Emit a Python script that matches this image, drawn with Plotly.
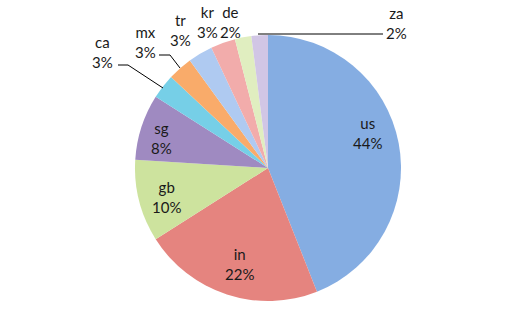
import plotly.graph_objects as go

labels = ["us", "in", "gb", "sg", "ca", "mx", "tr", "kr", "de", "za"]
values = [44, 22, 10, 8, 3, 3, 3, 3, 2, 2]
pct_text = ["44%", "22%", "10%", "8%", "3%", "3%", "3%", "3%", "2%", "2%"]

colors = ["#85ADE2", "#E5847F", "#CDE39E", "#9F8AC1", "#76CFE7",
          "#F9AB6A", "#AFCAF1", "#F2ACAB", "#E0EEC0", "#D1C6E5"]

W, H = 530, 315
# label centres (pixel coords in the figure)
label_pos = {
    "us": (367, 133), "in": (239, 264), "gb": (166, 197), "sg": (161, 138),
    "ca": (102, 52), "mx": (145, 42), "tr": (180, 30), "kr": (207, 22),
    "de": (230, 22), "za": (397, 23),
}
# leader lines (pixel polylines)
leaders = [
    [(118, 65), (128, 65), (163, 88)],
    [(159, 55), (170, 55), (180, 68)],
    [(258, 34), (383, 34)],
]

fig = go.Figure(go.Pie(
    labels=labels, values=values, sort=False, direction="clockwise",
    rotation=0, textinfo="none", hoverinfo="label+percent",
    marker=dict(colors=colors, line=dict(width=0)),
    domain=dict(x=[(268 - 133) / W, (268 + 133) / W],
                y=[1 - (168 + 133) / H, 1 - (168 - 133) / H]),
    showlegend=False,
))

for lab, pt in zip(labels, pct_text):
    x, y = label_pos[lab]
    fig.add_annotation(x=x / W, y=1 - y / H, xref="paper", yref="paper",
                       text=f"{lab}<br>{pt}", showarrow=False,
                       font=dict(family="Lato", size=15, color="#1a1a1a"),
                       xanchor="center", yanchor="middle", align="center")

for pl in leaders:
    path = "M " + " L ".join(f"{x / W},{1 - y / H}" for x, y in pl)
    fig.add_shape(type="path", path=path, xref="paper", yref="paper",
                  line=dict(color="#000000", width=1))

fig.update_layout(width=W, height=H, margin=dict(l=0, r=0, t=0, b=0),
                  paper_bgcolor="white", plot_bgcolor="white")
fig.write_html("out.html")
